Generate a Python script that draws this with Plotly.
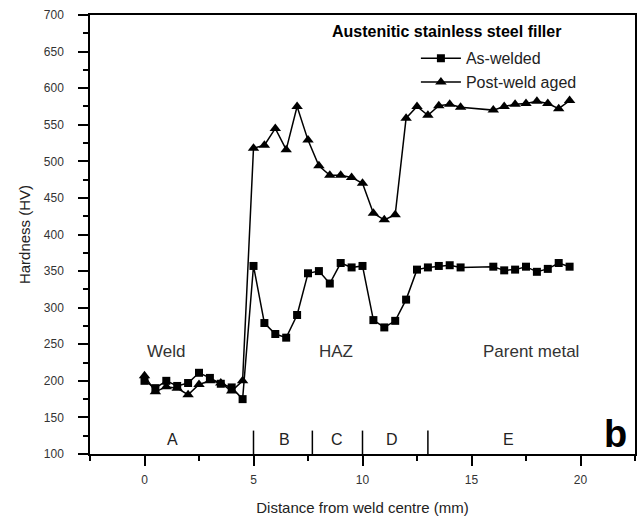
import plotly.graph_objects as go

# ---------------- data ----------------
dist = [0, 0.5, 1, 1.5, 2, 2.5, 3, 3.5, 4, 4.5,
        5.0, 5.5, 6.0, 6.5, 7.0, 7.5, 8.0, 8.5, 9.0, 9.5,
        10.0, 10.5, 11.0, 11.5, 12.0, 12.5, 13.0, 13.5, 14.0, 14.5,
        16.0, 16.5, 17.0, 17.5, 18.0, 18.5, 19.0, 19.5]

as_welded = [200, 190, 200, 193, 197, 211, 204, 196, 191, 175,
             357, 279, 264, 259, 290, 347, 350, 333, 361, 355,
             357, 283, 273, 282, 311, 352, 355, 357, 358, 355,
             356, 351, 352, 356, 349, 353, 361, 356]

post_weld_aged = [207, 185, 192, 190, 181, 195, 200, 197, 186, 200,
                  518, 522, 545, 516, 575, 529, 494, 481, 481, 478,
                  470, 429, 420, 427, 559, 575, 563, 576, 578, 574,
                  570, 575, 578, 579, 582, 579, 572, 583]

zone_labels = ["A", "B", "C", "D", "E"]
zone_label_x = [1.3, 6.4, 8.85, 11.35, 16.7]
zone_bounds = [5.0, 7.7, 10.0, 13.0]

region_text = ["Weld", "HAZ", "Parent metal"]
region_x = [1.0, 8.8, 17.75]
region_y = 240

x_ticks = [0, 5, 10, 15, 20]
y_ticks = list(range(100, 701, 50))

FONT = "Liberation Sans, Arial, sans-serif"

fig = go.Figure()
fig.add_trace(go.Scatter(
    x=dist, y=as_welded, mode="lines+markers", name="As-welded",
    line=dict(color="black", width=1.5),
    marker=dict(symbol="square", size=8, color="black"),
))
fig.add_trace(go.Scatter(
    x=dist, y=post_weld_aged, mode="lines+markers", name="Post-weld aged",
    line=dict(color="black", width=1.5),
    marker=dict(symbol="triangle-up", size=10, color="black"),
))

# zone dividers along the bottom
for b in zone_bounds:
    fig.add_shape(type="line", xref="x", yref="y", x0=b, x1=b, y0=100, y1=132,
                  line=dict(color="black", width=1.5))

annotations = []
for t, x in zip(zone_labels, zone_label_x):
    annotations.append(dict(x=x, y=120, xref="x", yref="y", text=t, showarrow=False,
                            font=dict(family=FONT, size=16, color="#222"),
                            xanchor="center", yanchor="middle"))
for t, x in zip(region_text, region_x):
    annotations.append(dict(x=x, y=region_y, xref="x", yref="y", text=t, showarrow=False,
                            font=dict(family=FONT, size=17, color="#333"),
                            xanchor="center", yanchor="middle"))
annotations.append(dict(x=21.6, y=128, xref="x", yref="y", text="<b>b</b>", showarrow=False,
                        font=dict(family=FONT, size=38, color="black"),
                        xanchor="center", yanchor="middle"))
annotations.append(dict(x=0.441, y=0.962, xref="paper", yref="paper",
                        text="<b>Austenitic stainless steel filler</b>", showarrow=False,
                        font=dict(family=FONT, size=16, color="black"),
                        xanchor="left", yanchor="middle"))

fig.update_layout(
    width=641, height=522,
    margin=dict(l=90, r=4, t=15, b=68),
    plot_bgcolor="white", paper_bgcolor="white",
    font=dict(family=FONT, color="black"),
    annotations=annotations,
    showlegend=True,
    legend=dict(x=0.598, y=0.94, xanchor="left", yanchor="top",
                font=dict(family=FONT, size=16, color="#222"),
                bgcolor="rgba(0,0,0,0)", itemwidth=40, tracegroupgap=0),
)

fig.update_xaxes(
    range=[-2.5, 22.5], tickvals=x_ticks, ticks="outside", ticklen=10, tickwidth=1.5,
    tickcolor="black", showline=True, linewidth=1.5, linecolor="black", mirror=True,
    showgrid=False, zeroline=False,
    tickfont=dict(family=FONT, size=12, color="#333"), ticklabelstandoff=4,
    minor=dict(ticks="outside", dtick=2.5, tick0=0, ticklen=5, tickwidth=1.5, tickcolor="black"),
    title=dict(text="Distance from weld centre (mm)", font=dict(family=FONT, size=15, color="#222"),
               standoff=16),
)
fig.update_yaxes(
    range=[100, 700], tickvals=y_ticks, ticks="outside", ticklen=10, tickwidth=1.5,
    tickcolor="black", showline=True, linewidth=1.5, linecolor="black", mirror=True,
    showgrid=False, zeroline=False,
    tickfont=dict(family=FONT, size=12, color="#333"), ticklabelstandoff=12,
    minor=dict(ticks="outside", dtick=25, tick0=100, ticklen=5, tickwidth=1.5, tickcolor="black"),
    title=dict(text="Hardness (HV)", font=dict(family=FONT, size=15, color="#222"), standoff=10),
)

fig.write_html("out.html")
